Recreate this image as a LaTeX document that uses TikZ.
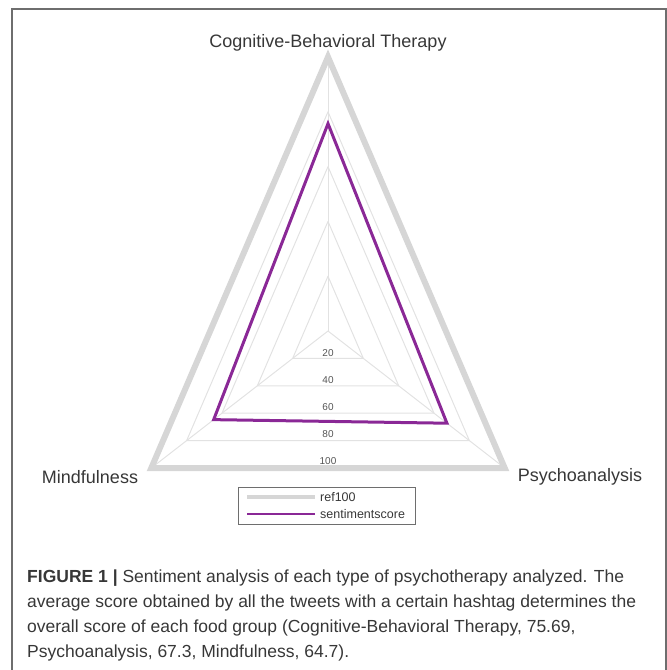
\documentclass[tikz,border=0pt]{standalone}
\usepackage{fontspec}
\setmainfont{Liberation Sans}
\usetikzlibrary{calc,positioning}
\definecolor{P}{RGB}{138,40,150}
\definecolor{R}{RGB}{214,214,214}
\definecolor{W}{RGB}{226,226,226}
\definecolor{T}{RGB}{55,55,55}
\definecolor{F}{RGB}{110,110,110}
\tikzstyle{axislabel} = [font=\fontsize{18}{20}\selectfont, text=T, inner sep=0pt]
\tikzstyle{ticklabel} = [font=\fontsize{10}{12}\selectfont, text=T!85, inner sep=0pt]
\tikzstyle{gridline} = [draw=W, line width=1pt, line join=round]
\tikzstyle{ref} = [draw=R, line width=6pt, line join=miter]
\tikzstyle{score} = [draw=P, line width=3pt, line join=miter]
\tikzstyle{keybox} = [rectangle, draw=F, line width=0.8pt, minimum width=177pt, minimum height=37pt, inner sep=0pt]
\tikzstyle{keytext} = [font=\fontsize{12.5}{14}\selectfont, text=T, inner sep=0pt, anchor=west]

\begin{document}
\begin{tikzpicture}[x=1pt, y=-1pt]
      \useasboundingbox (0,0) rectangle (667,670);
      \draw [F, line width=1.5pt] (12,670) -- (12,9) -- (666,9) -- (666,670);
      % radar axes
      \coordinate (center) at (328,331);
      \coordinate (cbt) at (328,57);
      \coordinate (mind) at (151.3,468);
      \coordinate (psy) at (504.7,468);
      \foreach \lv in {0.2,0.4,0.6,0.8,1}
        \draw [gridline] ($(center)!\lv!(cbt)$) -- ($(center)!\lv!(psy)$) -- ($(center)!\lv!(mind)$) -- cycle;
      \draw [gridline] (center) -- (cbt);
      \draw [gridline] (center) -- (psy);
      \draw [gridline] (center) -- (mind);
      \draw [ref] (cbt) -- (psy) -- (mind) -- cycle;
      \node (t20) [ticklabel] at (328,353) {20};
      \node (t40) [ticklabel] at (328,380) {40};
      \node (t60) [ticklabel] at (328,407) {60};
      \node (t80) [ticklabel] at (328,434) {80};
      \node (t100) [ticklabel] at (328,461) {100};
      \draw [score] ($(center)!0.7569!(cbt)$) -- ($(center)!0.673!(psy)$) -- ($(center)!0.647!(mind)$) -- cycle;
      \node (lcbt) [axislabel] at (328,43) {Cognitive-Behavioral Therapy};
      \node (lmind) [axislabel] at (90,477) {Mindfulness};
      \node (lpsy) [axislabel] at (580,477) {Psychoanalysis};
      % legend
      \node (key) [keybox] at (326.5,505.5) {};
      \coordinate (refa) at (247,497);
      \coordinate (refb) at (315,497);
      \coordinate (scorea) at (247,514);
      \coordinate (scoreb) at (315,514);
      \draw [R, line width=4pt] (refa) -- (refb);
      \draw [P, line width=2.5pt] (scorea) -- (scoreb);
      \node (keyref) [keytext] at (320,497) {ref100};
      \node (keyscore) [keytext] at (320,514) {sentimentscore};
      % caption
      \node (caption) [anchor=base west, align=left, text=T, inner sep=0pt,
        font=\fontsize{17.5}{25}\selectfont] at (27,657)
        {\textbf{FIGURE 1 |} Sentiment analysis of each type of psychotherapy analyzed. The\\
         average score obtained by all the tweets with a certain hashtag determines the\\
         overall score of each food group (Cognitive-Behavioral Therapy, 75.69,\\
         Psychoanalysis, 67.3, Mindfulness, 64.7).};
\end{tikzpicture}
\end{document}
